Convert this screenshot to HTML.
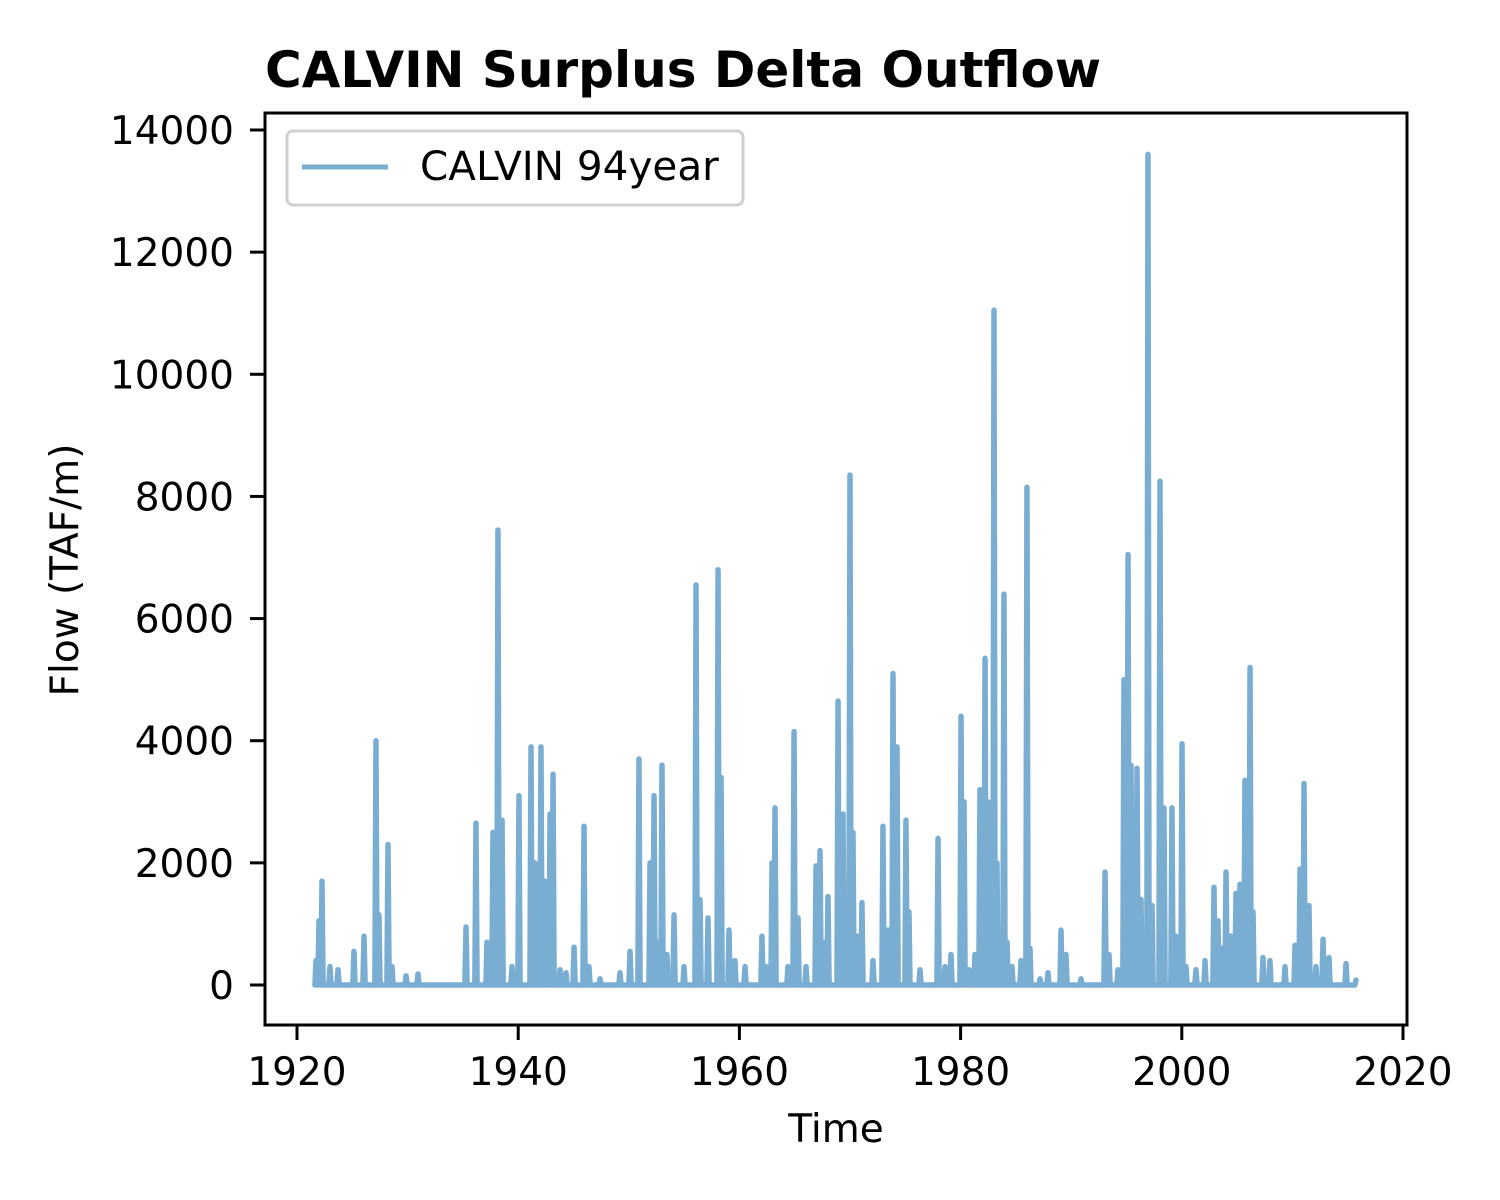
<!DOCTYPE html>
<html><head><meta charset="utf-8">
<style>
html,body{margin:0;padding:0;background:#fff;}
svg{display:block;font-family:"DejaVu Sans","Liberation Sans",sans-serif;}
</style></head>
<body>
<svg id="chart" width="1500" height="1200" viewBox="0 0 1500 1200">
<rect x="0" y="0" width="1500" height="1200" fill="#fff"/>
<text x="265" y="87" font-size="50" font-weight="bold" fill="#000">CALVIN Surplus Delta Outflow</text>
<g id="series"></g>
<rect x="265" y="113" width="1142" height="912" fill="none" stroke="#000" stroke-width="3"/>
<g id="xticks"></g>
<g id="yticks"></g>
<text x="836" y="1142" font-size="39" text-anchor="middle">Time</text>
<text transform="translate(78,570) rotate(-90)" font-size="39" text-anchor="middle">Flow (TAF/m)</text>
<g>
<rect x="287" y="131" width="456" height="74" rx="6" fill="#fff" fill-opacity="0.8" stroke="#d0d0d0" stroke-width="3"/>
<line x1="302" y1="167" x2="388" y2="167" stroke="#79add2" stroke-width="5"/>
<text x="420" y="180" font-size="40.5">CALVIN 94year</text>
</g>
</svg>
<script>
const peakYears = [1921.72,1921.99,1922.26,1922.98,1923.71,1925.15,1926.06,1927.14,1927.41,1928.23,1928.59,1929.86,1930.94,1935.28,1936.18,1937.18,1937.72,1938.17,1938.54,1939.44,1940.07,1941.16,1941.52,1942.06,1942.42,1942.88,1943.15,1943.78,1944.32,1945.05,1945.95,1946.40,1947.40,1949.20,1950.11,1950.92,1951.92,1952.28,1952.64,1953.00,1953.45,1954.09,1954.99,1956.08,1956.44,1957.16,1958.07,1958.34,1959.06,1959.60,1960.51,1962.04,1962.41,1962.95,1963.22,1964.39,1964.94,1965.30,1966.02,1966.93,1967.29,1967.74,1968.01,1968.92,1969.37,1970.00,1970.27,1970.72,1971.08,1972.08,1972.98,1973.44,1973.89,1974.25,1975.06,1975.33,1976.33,1977.96,1978.59,1979.13,1980.04,1980.31,1980.76,1981.30,1981.75,1982.21,1982.48,1983.02,1983.29,1983.47,1983.92,1984.20,1984.65,1985.46,1986.00,1986.27,1987.18,1987.90,1989.08,1989.53,1990.89,1993.06,1993.42,1994.23,1994.77,1995.14,1995.41,1995.95,1996.31,1996.94,1997.31,1998.03,1998.39,1999.11,1999.48,2000.02,2000.38,2001.28,2002.10,2002.91,2003.27,2003.63,2004.00,2004.45,2004.90,2005.26,2005.71,2006.17,2006.44,2007.34,2007.97,2009.33,2010.24,2010.69,2011.05,2011.50,2012.13,2012.77,2013.31,2014.85];
const peakValues = [400,1050,1700,300,250,550,800,4000,1150,2300,300,150,180,950,2650,700,2500,7450,2700,300,3100,3900,2000,3900,1700,2800,3450,250,200,620,2600,300,100,200,550,3700,2000,3100,700,3600,500,1150,300,6550,1400,1100,6800,3400,900,400,300,800,300,2000,2900,300,4150,1100,300,1950,2200,700,1450,4650,2800,8350,2500,800,1350,400,2600,900,5100,3900,2700,1200,250,2400,300,500,4400,3000,250,500,3200,5350,3000,11050,2000,400,6400,700,300,400,8150,600,100,200,900,500,100,1850,500,250,5000,7050,3600,3550,1400,13600,1300,8250,2900,2900,800,3950,300,250,400,1600,1050,600,1850,800,1500,1650,3350,5200,1200,450,400,300,650,1900,3300,1300,300,750,450,350];
const startYear = 1921.75, endYear = 2015.75, endValue = 80;
const xTicks = [1920,1940,1960,1980,2000,2020];
const yTicks = [0,2000,4000,6000,8000,10000,12000,14000];

const NS = "http://www.w3.org/2000/svg";
const xs = t => 297 + (t - 1920) * 11.06;
const ys = v => 985 - v * (855 / 14000);

const g = document.getElementById('series');
let pts = [[xs(startYear), ys(400)]];
for (let i = 0; i < peakYears.length; i++) {
  const t = peakYears[i], v = peakValues[i];
  pts.push([xs(t - 0.1), ys(0)], [xs(t), ys(v)], [xs(t + 0.1), ys(0)]);
}
pts.push([xs(endYear - 0.1), ys(0)], [xs(endYear), ys(endValue)]);
pts.sort((a, b) => a[0] - b[0]);
const path = document.createElementNS(NS, 'path');
path.setAttribute('d', 'M' + pts.map(p => p[0].toFixed(2) + ',' + p[1].toFixed(2)).join('L'));
path.setAttribute('fill', 'none');
path.setAttribute('stroke', '#79add2');
path.setAttribute('stroke-width', '5.5');
path.setAttribute('stroke-linejoin', 'round');
path.setAttribute('stroke-linecap', 'round');


g.appendChild(path);

const xg = document.getElementById('xticks');
xTicks.forEach(t => {
  const l = document.createElementNS(NS, 'line');
  l.setAttribute('x1', xs(t)); l.setAttribute('x2', xs(t));
  l.setAttribute('y1', 1025); l.setAttribute('y2', 1040);
  l.setAttribute('stroke', '#000'); l.setAttribute('stroke-width', '3');
  
  
  xg.appendChild(l);
  const tx = document.createElementNS(NS, 'text');
  tx.setAttribute('x', xs(t)); tx.setAttribute('y', 1085);
  tx.setAttribute('font-size', '39'); tx.setAttribute('text-anchor', 'middle');
  tx.textContent = t;
  
  
  xg.appendChild(tx);
});
const yg = document.getElementById('yticks');
yTicks.forEach(v => {
  const l = document.createElementNS(NS, 'line');
  l.setAttribute('x1', 250); l.setAttribute('x2', 265);
  l.setAttribute('y1', ys(v)); l.setAttribute('y2', ys(v));
  l.setAttribute('stroke', '#000'); l.setAttribute('stroke-width', '3');
  
  
  yg.appendChild(l);
  const tx = document.createElementNS(NS, 'text');
  tx.setAttribute('x', 234); tx.setAttribute('y', ys(v) + 14);
  tx.setAttribute('font-size', '39'); tx.setAttribute('text-anchor', 'end');
  tx.textContent = v;
  
  
  yg.appendChild(tx);
});
</script>
</body></html>
